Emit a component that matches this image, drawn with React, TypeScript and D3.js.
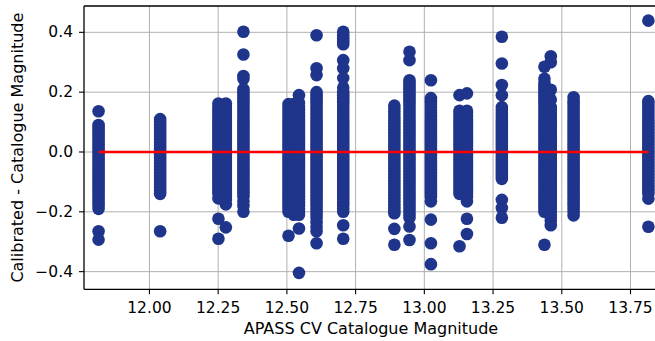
import React from 'react';
import * as d3 from 'd3';

// APASS CV catalogue magnitude of each comparison star
const catalogueMag = [
  11.815, 12.039, 12.251, 12.278, 12.342, 12.506, 12.525, 12.544, 12.608, 12.705,
  12.891, 12.946, 13.024, 13.128, 13.155, 13.282, 13.437, 13.46, 13.543, 13.815,
];

// calibrated - catalogue residuals, one list per star (same order as above)
const star01 = [0.136, 0.09, 0.08, 0.07, 0.06, 0.05, 0.04, 0.03, 0.02, 0.01, 0.0, -0.01, -0.02, -0.03, -0.04, -0.05, -0.06, -0.07, -0.08, -0.09, -0.1, -0.11, -0.12, -0.13, -0.14, -0.15, -0.16, -0.17, -0.18, -0.19, -0.265, -0.293];
const star02 = [0.11, 0.1, 0.09, 0.08, 0.07, 0.06, 0.05, 0.04, 0.03, 0.02, 0.01, 0.0, -0.01, -0.02, -0.03, -0.04, -0.05, -0.06, -0.07, -0.08, -0.09, -0.1, -0.11, -0.12, -0.13, -0.14, -0.265];
const star03 = [0.162, 0.15, 0.14, 0.13, 0.12, 0.11, 0.1, 0.09, 0.08, 0.07, 0.06, 0.05, 0.04, 0.03, 0.02, 0.01, 0.0, -0.01, -0.02, -0.03, -0.04, -0.05, -0.06, -0.07, -0.08, -0.09, -0.1, -0.11, -0.12, -0.13, -0.14, -0.155, -0.223, -0.29];
const star04 = [0.162, 0.15, 0.14, 0.13, 0.12, 0.11, 0.1, 0.09, 0.08, 0.07, 0.06, 0.05, 0.04, 0.03, 0.02, 0.01, 0.0, -0.01, -0.02, -0.03, -0.04, -0.05, -0.06, -0.07, -0.08, -0.09, -0.1, -0.11, -0.12, -0.13, -0.14, -0.15, -0.16, -0.175, -0.252];
const star05 = [0.402, 0.326, 0.254, 0.245, 0.21, 0.2, 0.19, 0.18, 0.17, 0.16, 0.15, 0.14, 0.13, 0.12, 0.11, 0.1, 0.09, 0.08, 0.07, 0.06, 0.05, 0.04, 0.03, 0.02, 0.01, 0.0, -0.01, -0.02, -0.03, -0.04, -0.05, -0.06, -0.07, -0.08, -0.09, -0.1, -0.11, -0.12, -0.13, -0.14, -0.15, -0.165, -0.18, -0.2];
const star06 = [0.16, 0.15, 0.14, 0.13, 0.12, 0.11, 0.1, 0.09, 0.08, 0.07, 0.06, 0.05, 0.04, 0.03, 0.02, 0.01, 0.0, -0.01, -0.02, -0.03, -0.04, -0.05, -0.06, -0.07, -0.08, -0.09, -0.1, -0.11, -0.12, -0.13, -0.14, -0.15, -0.16, -0.17, -0.18, -0.19, -0.2, -0.28];
const star07 = [0.16, 0.15, 0.14, 0.13, 0.12, 0.11, 0.1, 0.09, 0.08, 0.07, 0.06, 0.05, 0.04, 0.03, 0.02, 0.01, 0.0, -0.01, -0.02, -0.03, -0.04, -0.05, -0.06, -0.07, -0.08, -0.09, -0.1, -0.11, -0.12, -0.13, -0.14, -0.15, -0.16, -0.17, -0.18, -0.19, -0.2, -0.21];
const star08 = [0.19, 0.165, 0.15, 0.14, 0.13, 0.12, 0.11, 0.1, 0.09, 0.08, 0.07, 0.06, 0.05, 0.04, 0.03, 0.02, 0.01, 0.0, -0.01, -0.02, -0.03, -0.04, -0.05, -0.06, -0.07, -0.08, -0.09, -0.1, -0.11, -0.12, -0.13, -0.14, -0.15, -0.16, -0.17, -0.18, -0.19, -0.2, -0.21, -0.256, -0.404];
const star09 = [0.39, 0.28, 0.257, 0.2, 0.19, 0.18, 0.17, 0.16, 0.15, 0.14, 0.13, 0.12, 0.11, 0.1, 0.09, 0.08, 0.07, 0.06, 0.05, 0.04, 0.03, 0.02, 0.01, 0.0, -0.01, -0.02, -0.03, -0.04, -0.05, -0.06, -0.07, -0.08, -0.09, -0.1, -0.11, -0.12, -0.13, -0.14, -0.15, -0.16, -0.17, -0.18, -0.19, -0.2, -0.21, -0.22, -0.235, -0.25, -0.265, -0.305];
const star10 = [0.402, 0.39, 0.38, 0.37, 0.36, 0.307, 0.28, 0.247, 0.215, 0.2, 0.19, 0.18, 0.17, 0.16, 0.15, 0.14, 0.13, 0.12, 0.11, 0.1, 0.09, 0.08, 0.07, 0.06, 0.05, 0.04, 0.03, 0.02, 0.01, 0.0, -0.01, -0.02, -0.03, -0.04, -0.05, -0.06, -0.07, -0.08, -0.09, -0.1, -0.11, -0.12, -0.13, -0.14, -0.15, -0.16, -0.17, -0.18, -0.19, -0.2, -0.245, -0.29];
const star11 = [0.155, 0.145, 0.135, 0.125, 0.115, 0.105, 0.095, 0.085, 0.075, 0.065, 0.055, 0.045, 0.035, 0.025, 0.015, 0.005, -0.005, -0.015, -0.025, -0.035, -0.045, -0.055, -0.065, -0.075, -0.085, -0.095, -0.105, -0.115, -0.125, -0.135, -0.145, -0.155, -0.165, -0.175, -0.185, -0.195, -0.205, -0.257, -0.31];
const star12 = [0.335, 0.307, 0.24, 0.23, 0.22, 0.21, 0.2, 0.19, 0.18, 0.17, 0.16, 0.15, 0.14, 0.13, 0.12, 0.11, 0.1, 0.09, 0.08, 0.07, 0.06, 0.05, 0.04, 0.03, 0.02, 0.01, 0.0, -0.01, -0.02, -0.03, -0.04, -0.05, -0.06, -0.07, -0.08, -0.09, -0.1, -0.11, -0.12, -0.13, -0.14, -0.15, -0.16, -0.17, -0.18, -0.19, -0.2, -0.21, -0.22, -0.249, -0.294];
const star13 = [0.24, 0.18, 0.17, 0.16, 0.15, 0.14, 0.13, 0.12, 0.11, 0.1, 0.09, 0.08, 0.07, 0.06, 0.05, 0.04, 0.03, 0.02, 0.01, 0.0, -0.01, -0.02, -0.03, -0.04, -0.05, -0.06, -0.07, -0.08, -0.09, -0.1, -0.11, -0.12, -0.13, -0.14, -0.15, -0.165, -0.226, -0.305, -0.375];
const star14 = [0.19, 0.138, 0.13, 0.12, 0.11, 0.1, 0.09, 0.08, 0.07, 0.06, 0.05, 0.04, 0.03, 0.02, 0.01, 0.0, -0.01, -0.02, -0.03, -0.04, -0.05, -0.06, -0.07, -0.08, -0.09, -0.1, -0.11, -0.12, -0.13, -0.14, -0.315];
const star15 = [0.196, 0.138, 0.13, 0.12, 0.11, 0.1, 0.09, 0.08, 0.07, 0.06, 0.05, 0.04, 0.03, 0.02, 0.01, 0.0, -0.01, -0.02, -0.03, -0.04, -0.05, -0.06, -0.07, -0.08, -0.09, -0.1, -0.11, -0.12, -0.13, -0.14, -0.15, -0.165, -0.223, -0.274];
const star16 = [0.385, 0.296, 0.224, 0.19, 0.15, 0.14, 0.13, 0.12, 0.11, 0.1, 0.09, 0.08, 0.07, 0.06, 0.05, 0.04, 0.03, 0.02, 0.01, 0.0, -0.01, -0.02, -0.03, -0.04, -0.05, -0.06, -0.07, -0.08, -0.09, -0.16, -0.187, -0.22];
const star17 = [0.285, 0.245, 0.23, 0.22, 0.21, 0.2, 0.19, 0.18, 0.17, 0.16, 0.15, 0.14, 0.13, 0.12, 0.11, 0.1, 0.09, 0.08, 0.07, 0.06, 0.05, 0.04, 0.03, 0.02, 0.01, 0.0, -0.01, -0.02, -0.03, -0.04, -0.05, -0.06, -0.07, -0.08, -0.09, -0.1, -0.11, -0.12, -0.13, -0.14, -0.15, -0.16, -0.17, -0.18, -0.19, -0.2, -0.31];
const star18 = [0.32, 0.3, 0.208, 0.175, 0.15, 0.14, 0.13, 0.12, 0.11, 0.1, 0.09, 0.08, 0.07, 0.06, 0.05, 0.04, 0.03, 0.02, 0.01, 0.0, -0.01, -0.02, -0.03, -0.04, -0.05, -0.06, -0.07, -0.08, -0.09, -0.1, -0.11, -0.12, -0.13, -0.14, -0.15, -0.16, -0.17, -0.18, -0.19, -0.2, -0.21, -0.22, -0.23, -0.245];
const star19 = [0.183, 0.17, 0.16, 0.15, 0.14, 0.13, 0.12, 0.11, 0.1, 0.09, 0.08, 0.07, 0.06, 0.05, 0.04, 0.03, 0.02, 0.01, 0.0, -0.01, -0.02, -0.03, -0.04, -0.05, -0.06, -0.07, -0.08, -0.09, -0.1, -0.11, -0.12, -0.13, -0.14, -0.15, -0.16, -0.17, -0.18, -0.19, -0.2, -0.212];
const star20 = [0.439, 0.17, 0.16, 0.15, 0.14, 0.13, 0.12, 0.11, 0.1, 0.09, 0.08, 0.07, 0.06, 0.05, 0.04, 0.03, 0.02, 0.01, 0.0, -0.01, -0.02, -0.03, -0.04, -0.05, -0.06, -0.07, -0.08, -0.09, -0.1, -0.11, -0.12, -0.13, -0.14, -0.156, -0.25];

const residuals = [
  star01, star02, star03, star04, star05, star06, star07, star08, star09, star10,
  star11, star12, star13, star14, star15, star16, star17, star18, star19, star20,
];

const xTicks = [12.0, 12.25, 12.5, 12.75, 13.0, 13.25, 13.5, 13.75];
const yTicks = [-0.4, -0.2, 0.0, 0.2, 0.4];

const W = 655;
const H = 341;
const plot = { left: 84, right: 658, top: 6, bottom: 289.3 };

const App: React.FC = () => {
  const x = d3.scaleLinear().domain([11.762, 13.85]).range([plot.left, plot.right]);
  const y = d3.scaleLinear().domain([-0.459, 0.488]).range([plot.bottom, plot.top]);

  // flatten star lists into points
  const points = residuals.flatMap((vals, i) => vals.map((v) => ({ mag: catalogueMag[i], res: v })));

  const fmtY = (v: number) => d3.format('.1f')(v).replace('-', '\u2212');
  const font = 'DejaVu Sans, sans-serif';
  const zeroLine = d3.line<number>().x((m) => x(m)).y(() => y(0));
  const [magMin, magMax] = d3.extent(catalogueMag) as [number, number];

  return (
    <svg width={W} height={H} style={{ position: 'absolute', left: 0, top: 0, background: '#fff' }}>
      <defs>
        <clipPath id="plotArea">
          <rect x={plot.left} y={plot.top} width={plot.right - plot.left} height={plot.bottom - plot.top} />
        </clipPath>
      </defs>
      <rect width={W} height={H} fill="#fff" />

      {/* grid */}
      <g stroke="#b0b0b0" strokeWidth={1}>
        {xTicks.map((t) => (
          <line key={'gx' + t} x1={x(t)} x2={x(t)} y1={plot.top} y2={plot.bottom} />
        ))}
        {yTicks.map((t) => (
          <line key={'gy' + t} x1={plot.left} x2={plot.right} y1={y(t)} y2={y(t)} />
        ))}
      </g>

      {/* scatter */}
      <g clipPath="url(#plotArea)" fill="#1f358b">
        {points.map((p, i) => (
          <circle key={i} cx={x(p.mag)} cy={y(p.res)} r={6.3} />
        ))}
      </g>

      {/* zero line */}
      <path d={zeroLine([magMin, magMax]) || ''} stroke="#ff0000" strokeWidth={2.5} fill="none" />

      {/* spines */}
      <g stroke="#000" strokeWidth={1.3} fill="none">
        <line x1={plot.left} x2={plot.left} y1={plot.top} y2={plot.bottom} />
        <line x1={plot.left} x2={plot.right} y1={plot.bottom} y2={plot.bottom} />
        <line x1={plot.left} x2={plot.right} y1={plot.top} y2={plot.top} />
      </g>

      {/* x axis */}
      <g fontFamily={font} fontSize={15.5} fill="#000">
        {xTicks.map((t) => (
          <g key={'xt' + t}>
            <line x1={x(t)} x2={x(t)} y1={plot.bottom} y2={plot.bottom + 5} stroke="#000" strokeWidth={1.1} />
            <text x={x(t)} y={313} textAnchor="middle">{t.toFixed(2)}</text>
          </g>
        ))}
      </g>

      {/* y axis */}
      <g fontFamily={font} fontSize={15.5} fill="#000">
        {yTicks.map((t) => (
          <g key={'yt' + t}>
            <line x1={plot.left - 5} x2={plot.left} y1={y(t)} y2={y(t)} stroke="#000" strokeWidth={1.1} />
            <text x={73} y={y(t)} textAnchor="end" dominantBaseline="central">{fmtY(t)}</text>
          </g>
        ))}
      </g>

      <text x={371} y={334} textAnchor="middle" fontFamily={font} fontSize={16} fill="#000">
        APASS CV Catalogue Magnitude
      </text>
      <text
        transform={`translate(23,${(plot.top + plot.bottom) / 2}) rotate(-90)`}
        textAnchor="middle"
        fontFamily={font}
        fontSize={16}
        fill="#000"
      >
        Calibrated - Catalogue Magnitude
      </text>
    </svg>
  );
};

export default App;
